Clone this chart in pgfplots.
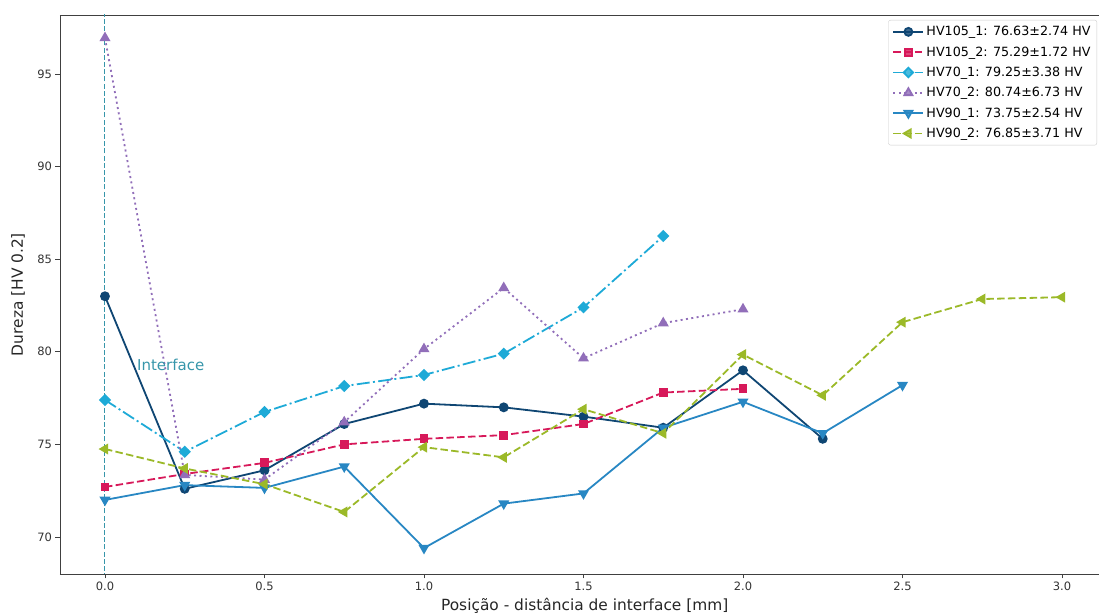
\documentclass[border=0pt]{standalone}
\usepackage{fontspec}
\setmainfont{DejaVu Sans}
\usepackage{pgfplots}
\pgfplotsset{compat=1.18}
\definecolor{cA}{RGB}{15,70,115}
\definecolor{cB}{RGB}{215,25,90}
\definecolor{cC}{RGB}{30,170,215}
\definecolor{cD}{RGB}{145,110,185}
\definecolor{cE}{RGB}{40,135,195}
\definecolor{cF}{RGB}{155,185,40}
\definecolor{cI}{RGB}{55,150,170}
\begin{document}
\begin{tikzpicture}
\begin{axis}[name=ax, scale only axis, width=1039bp, height=559bp,
  xmin=-0.141, xmax=3.116, ymin=68.0, ymax=98.19,
  separate axis lines, axis x line*=box, axis y line*=left,
  axis line style={black!75, line width=0.9bp},
  xtick={0,0.5,1,1.5,2,2.5,3}, ytick={70,75,80,85,90,95},
  xtick pos=bottom, ytick pos=left,
  tick align=outside, major tick length=4.5bp,
  tick style={black!75, line width=0.8bp},
  /pgf/number format/assume math mode=true,
  xticklabel style={font=\fontsize{11.5bp}{13bp}\selectfont, text=black!80,
    /pgf/number format/.cd, fixed, fixed zerofill, precision=1},
  yticklabel style={font=\fontsize{11.5bp}{13bp}\selectfont, text=black!80,
    /pgf/number format/.cd, fixed, precision=0},
  xlabel={Posição - distância de interface [mm]},
  ylabel={Dureza [HV 0.2]},
  label style={font=\fontsize{15.4bp}{18bp}\selectfont, text=black!85},
  xlabel style={at={(axis description cs:0.505,0)}, anchor=center, yshift=-32bp},
  ylabel style={at={(axis description cs:0,0.5)}, anchor=center, yshift=42bp},
  legend style={at={(1,1)}, anchor=north east, xshift=-2bp, yshift=-5bp,
    draw=black!20, rounded corners=2bp, fill=white, fill opacity=0.8, text opacity=1,
    font=\fontsize{12.7bp}{15bp}\selectfont, inner xsep=4bp, inner ysep=4bp,
    row sep=5bp, nodes={inner sep=2.2bp}},
  legend cell align=left,
  legend image code/.code={\draw[mark repeat=2,mark phase=2] plot coordinates {(0bp,0bp) (15bp,0bp) (30bp,0bp)};},
]
% interface line
\addplot[cI, line width=1bp, dash pattern=on 5bp off 2.2bp, forget plot] coordinates {(0,67) (0,99.5)};

\addplot[cA, line width=1.8bp, mark=*, mark size=4bp, mark options={solid, fill=cA, draw=cA}]
coordinates {(0,83.0) (0.25,72.6) (0.5,73.6) (0.75,76.1) (1.0,77.2) (1.25,77.0) (1.5,76.5) (1.75,75.9) (2.0,79.0) (2.25,75.3)};
\addlegendentry{HV105\_1: 76.63±2.74 HV}

\addplot[cB, line width=1.8bp, dash pattern=on 7.5bp off 3.3bp, mark=square*, mark size=3.5bp, mark options={solid, fill=cB, draw=cB}]
coordinates {(0,72.7) (0.25,73.4) (0.5,74.0) (0.75,75.0) (1.0,75.3) (1.25,75.5) (1.5,76.1) (1.75,77.8) (2.0,78.0)};
\addlegendentry{HV105\_2: 75.29±1.72 HV}

\addplot[cC, line width=1.8bp, dash pattern=on 13bp off 3.3bp on 2bp off 3.3bp, mark=square*, mark size=3.4bp, mark options={solid, rotate=45, fill=cC, draw=cC}]
coordinates {(0,77.4) (0.25,74.6) (0.5,76.75) (0.75,78.15) (1.0,78.75) (1.25,79.9) (1.5,82.4) (1.75,86.25)};
\addlegendentry{HV70\_1: 79.25±3.38 HV}

\addplot[cD, line width=1.8bp, dash pattern=on 2bp off 3.4bp, mark=triangle*, mark size=4.6bp, mark options={solid, fill=cD, draw=cD}]
coordinates {(0,96.95) (0.25,73.35) (0.5,73.1) (0.75,76.2) (1.0,80.15) (1.25,83.45) (1.5,79.65) (1.75,81.55) (2.0,82.3)};
\addlegendentry{HV70\_2: 80.74±6.73 HV}

\addplot[cE, line width=1.8bp, mark=triangle*, mark size=4.6bp, mark options={solid, rotate=180, fill=cE, draw=cE}]
coordinates {(0,72.0) (0.25,72.8) (0.5,72.65) (0.75,73.8) (1.0,69.4) (1.25,71.8) (1.5,72.35) (1.75,75.9) (2.0,77.3) (2.25,75.6) (2.5,78.2)};
\addlegendentry{HV90\_1: 73.75±2.54 HV}

\addplot[cF, line width=1.8bp, dash pattern=on 7.5bp off 3.3bp, mark=triangle*, mark size=4.6bp, mark options={solid, rotate=90, fill=cF, draw=cF}]
coordinates {(0,74.75) (0.25,73.7) (0.5,72.85) (0.75,71.35) (1.0,74.85) (1.25,74.3) (1.5,76.9) (1.75,75.6) (2.0,79.85) (2.25,77.65) (2.5,81.6) (2.75,82.85) (3.0,82.95)};
\addlegendentry{HV90\_2: 76.85±3.71 HV}

\node[anchor=west, text=cI, font=\fontsize{15bp}{18bp}\selectfont, inner sep=0pt] at (axis cs:0.1,79.3) {Interface};
\end{axis}
\pgfresetboundingbox
\path[use as bounding box] ([xshift=-60bp,yshift=-41bp]ax.south west) rectangle ([yshift=15bp]ax.north east);
\end{tikzpicture}
\end{document}
